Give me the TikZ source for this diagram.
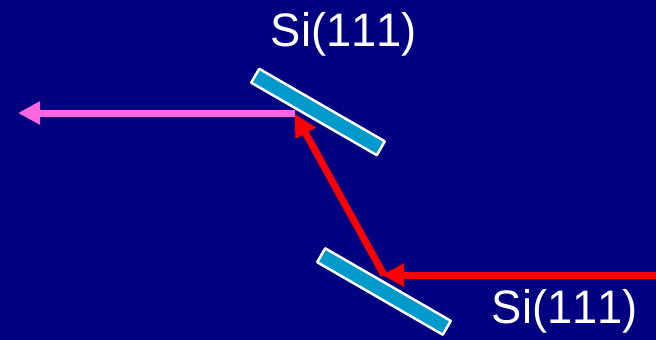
\documentclass[tikz,border=0pt]{standalone}
\usepackage{fontspec}
\setmainfont[Kerning=Off]{Liberation Sans}
\newfontfamily\labelfont[Kerning=Off,FakeStretch=0.965]{Liberation Sans}
\usetikzlibrary{arrows.meta}
\definecolor{bgnavy}{HTML}{000080}
\definecolor{crystalblue}{HTML}{0099CC}
\definecolor{beampink}{HTML}{FF66E0}
\tikzset{
  crystal/.style={draw=white, fill=crystalblue, line width=2.5pt, rounded corners=0.5pt, minimum width=145pt, minimum height=16pt, inner sep=0pt, rotate=-30},
  beam/.style={line width=7pt, -{Triangle[length=22pt,width=22pt]}},
  crystallabel/.style={text=white, font=\labelfont\fontsize{47}{47}\selectfont, inner sep=0pt, anchor=base}
}
\begin{document}
\begin{tikzpicture}[x=1pt, y=-1pt]
    % Background
    \fill[bgnavy] (0,0) rectangle (656,340);
    \useasboundingbox (0,0) rectangle (656,340);

    % Crystals
    \node[crystal] (top) at (318,112) {};
    \node[crystal] (bottom) at (384,291.5) {};

    % Beam points
    \coordinate (source) at (656,275);
    \coordinate (hitbottom) at (382,275);
    \coordinate (leavebottom) at (384,275);
    \coordinate (hittop) at (295,114);
    \coordinate (leavetop) at (295,113);
    \coordinate (exit) at (18,113);

    % Beams
    \draw[beam, color=beampink] (leavetop) -- (exit);
    \draw[beam, color=red] (leavebottom) -- (hittop);
    \draw[beam, color=red] (source) -- (hitbottom);

    % Labels
    \node[crystallabel] (toplabel) at (344,46.5) {Si(111)};
    \node[crystallabel] (bottomlabel) at (565,323.5) {Si(111)};
\end{tikzpicture}
\end{document}
